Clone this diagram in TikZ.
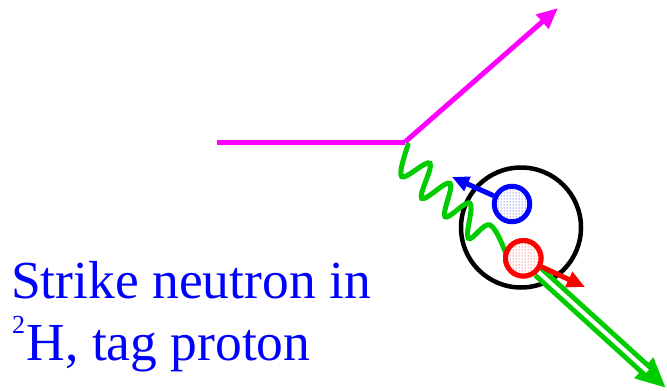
\documentclass[tikz,border=0pt]{standalone}
\usepackage{fontspec}
\setmainfont{Liberation Serif}
\usetikzlibrary{arrows.meta,patterns}
\definecolor{gr}{RGB}{0,204,0}
\definecolor{mag}{RGB}{255,0,255}
\definecolor{bl}{RGB}{0,0,255}
\definecolor{rd}{RGB}{255,0,0}
\begin{document}
\begin{tikzpicture}[x=1pt,y=-1pt,
  ball/.style={circle,inner sep=0pt,minimum size=35.5pt,line width=5pt,draw=#1,fill=white,postaction={pattern=dots,pattern color=#1}},
  lbl/.style={text=bl,anchor=base west,inner sep=0pt,font=\fontsize{53.5}{63}\selectfont}]
\useasboundingbox (0,0) rectangle (667,391);
\coordinate (in) at (217,142);
\coordinate (v) at (405,142);
\coordinate (out) at (558,8);
\coordinate (nt) at (452,177);
\coordinate (pt) at (585,287);
\coordinate (gt) at (666,388);
\draw[mag,line width=5pt] (in) -- (v);
\draw[mag,line width=5pt,-{Triangle[length=21pt,width=18pt]}] (v) -- (out);
\node[circle,draw,line width=4.5pt,minimum size=120pt,inner sep=0pt] (nuc) at (521,227.5) {};
\draw[gr,line width=5pt,line cap=round] plot[smooth,tension=0.65] coordinates {
  (408,145) (401.7,176.7) (430,163.3) (421.7,198.3) (450,183.3) (445,216.7)
  (470,203.3) (468.3,238.3) (490,225) (506,254)};
\node[ball=rd] (p) at (523.3,258.3) {};
\draw[gr,line width=14pt,-{Triangle[length=30pt,width=26pt]}] (p) -- (gt);
\draw[white,line width=4pt,shorten >=25pt] (p) -- (gt);
\node[ball=rd] (p2) at (523.3,258.3) {};
\node[ball=bl] (n) at (512,204) {};
\draw[bl,line width=5pt,-{Triangle[length=17pt,width=15pt]}] (n) -- (nt);
\draw[rd,line width=5pt,-{Triangle[length=18pt,width=16pt]}] (p2) -- (pt);
\node[lbl] (t1) at (11,298.5) {Strike neutron in};
\node[lbl] (t2) at (12,360) {\raisebox{26.5pt}{\fontsize{26}{26}\selectfont 2}\kern1.5pt H, tag proton};
\end{tikzpicture}
\end{document}
